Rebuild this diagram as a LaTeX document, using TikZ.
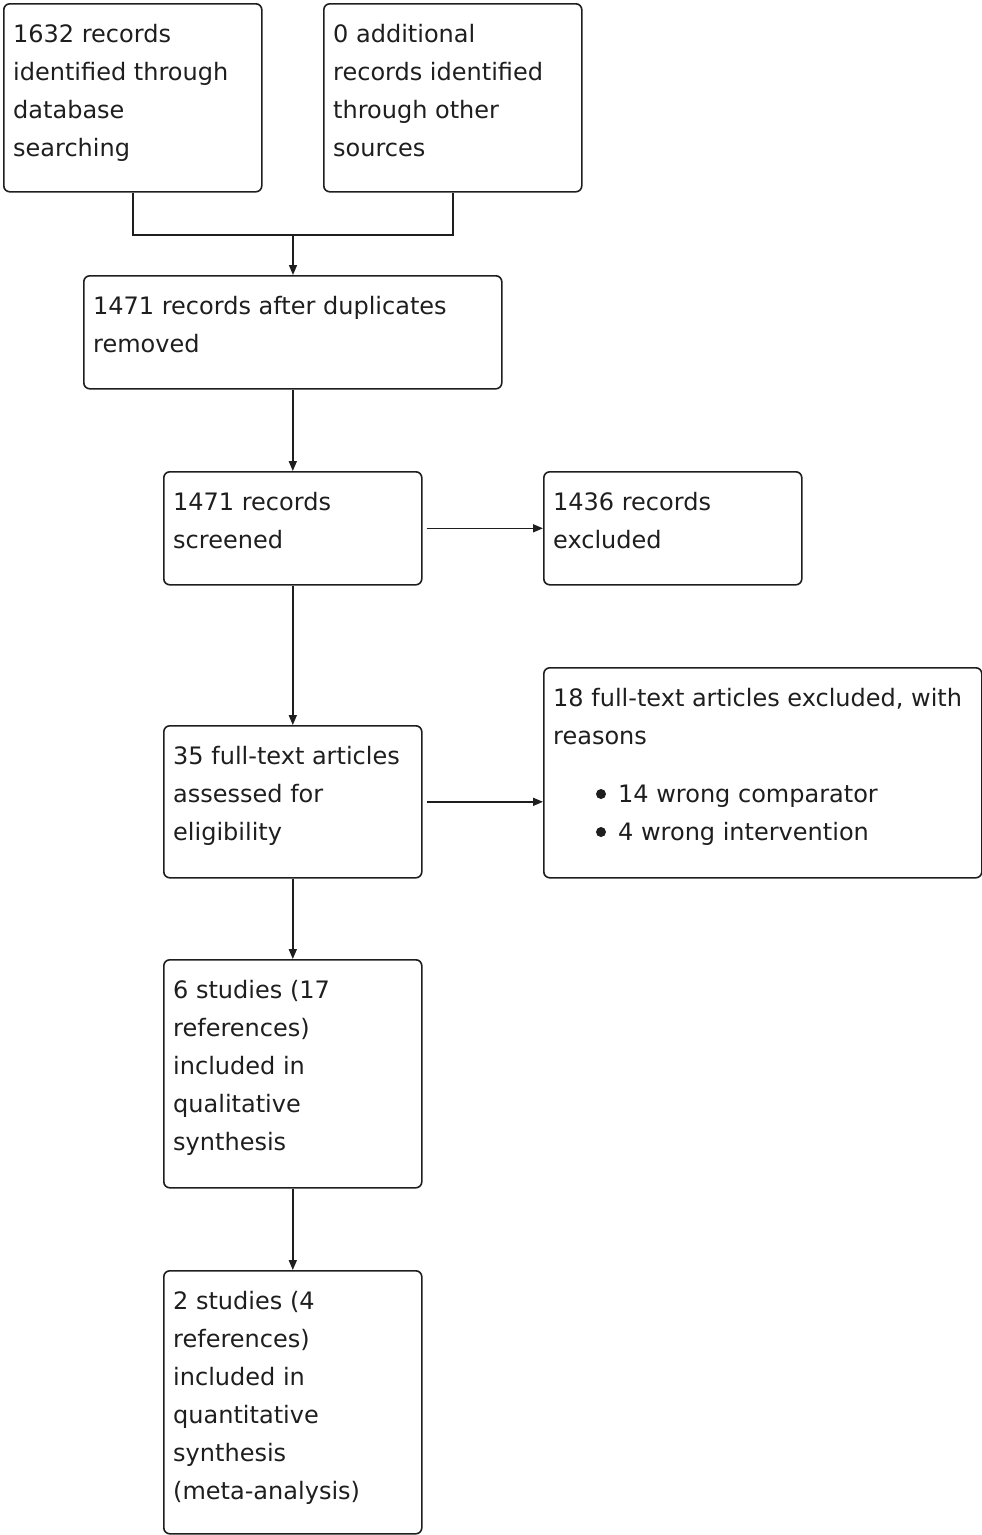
\documentclass[tikz,border=0pt]{standalone}
\usepackage{fontspec}
\setmainfont{DejaVu Sans}
\usetikzlibrary{arrows.meta}
\definecolor{ink}{HTML}{1E1E1E}
\newcommand{\fl}{\rule{0pt}{20pt}}
\tikzset{
  box/.style={draw=ink, line width=1.6pt, rounded corners=6pt, anchor=north west, inner sep=0pt},
  txt/.style={anchor=north west, inner sep=0pt, align=left, text=ink,
    font=\fontsize{24pt}{38pt}\selectfont},
  conn/.style={draw=ink, line width=1.6pt},
  arr/.style={conn, -{Triangle[length=10pt,width=8pt]}},
  dot/.style={circle, fill=ink, inner sep=0pt, minimum size=10pt}
}
\begin{document}
\begin{tikzpicture}[x=1pt,y=-1pt]
\useasboundingbox (0,0) rectangle (982,1535);
% boxes
\node[box, minimum width=258pt, minimum height=188pt] (a) at (3,3) {};
\node[box, minimum width=258pt, minimum height=188pt] (b) at (323,3) {};
\node[box, minimum width=418pt, minimum height=113pt] (c) at (83,275) {};
\node[box, minimum width=258pt, minimum height=113pt] (d) at (163,471) {};
\node[box, minimum width=258pt, minimum height=113pt] (e) at (543,471) {};
\node[box, minimum width=258pt, minimum height=152pt] (f) at (163,725) {};
\node[box, minimum width=438pt, minimum height=210pt] (g) at (543,667) {};
\node[box, minimum width=258pt, minimum height=228pt] (h) at (163,959) {};
\node[box, minimum width=258pt, minimum height=263pt] (i) at (163,1270) {};
% texts (first baseline = y + 20)
\node[txt] (ta) at (13,22) {\fl 1632 records\\identified through\\database\\searching};
\node[txt] (tb) at (333,22) {\fl 0 additional\\records identified\\through other\\sources};
\node[txt] (tc) at (93,294) {\fl 1471 records after duplicates\\removed};
\node[txt] (td) at (173,490) {\fl 1471 records\\screened};
\node[txt] (te) at (553,490) {\fl 1436 records\\excluded};
\node[txt] (tf) at (173,744) {\fl 35 full-text articles\\assessed for\\eligibility};
\node[txt] (tg) at (553,686) {\fl 18 full-text articles excluded, with\\reasons};
\node[dot] (d1) at (601,794) {};
\node[txt] (tg1) at (618,782) {\fl 14 wrong comparator};
\node[dot] (d2) at (601,832) {};
\node[txt] (tg2) at (618,820) {\fl 4 wrong intervention};
\node[txt] (th) at (173,978) {\fl 6 studies (17\\references)\\included in\\qualitative\\synthesis};
\node[txt] (ti) at (173,1289) {\fl 2 studies (4\\references)\\included in\\quantitative\\synthesis\\(meta-analysis)};
% connectors
\coordinate (j) at (293,235);
\draw[conn] (a.south) |- (j) -| (b.south);
\draw[arr] (j) -- (c.north -| j);
\draw[arr] (c.south -| d.north) -- (d.north);
\draw[arr] ([xshift=4pt]d.east) -- (e.west);
\draw[arr] (d.south) -- (f.north);
\draw[arr] ([xshift=4pt]f.east) -- (g.west |- f.east);
\draw[arr] (f.south) -- (h.north);
\draw[arr] (h.south) -- (i.north);
\end{tikzpicture}
\end{document}
